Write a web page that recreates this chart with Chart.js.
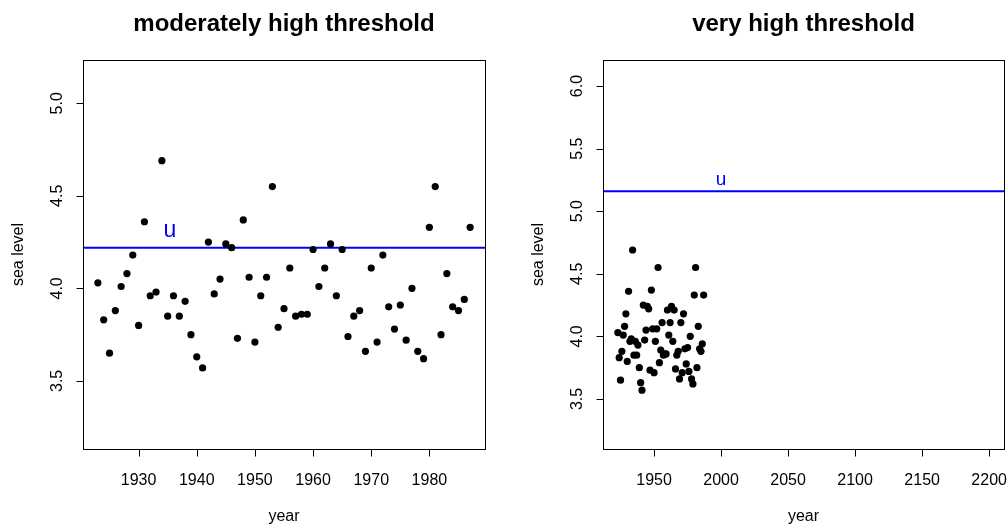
<!DOCTYPE html>
<html>
<head>
<meta charset="utf-8">
<script src="https://cdn.jsdelivr.net/npm/chart.js@4.4.1/dist/chart.umd.min.js"></script>
<style>
  body { margin: 0; background: #fff; }
  .wrap { position: relative; width: 1008px; height: 524px; }
  canvas { position: absolute; top: 0; }
</style>
</head>
<body>
<div class="wrap">
  <canvas id="left" width="520" height="524" style="left:0"></canvas>
  <canvas id="right" width="488" height="524" style="left:520px"></canvas>
</div>
<script>
// Port Pirie annual maximum sea level
const years = [1923, 1924, 1925, 1926, 1927, 1928, 1929, 1930, 1931, 1932,
  1933, 1934, 1935, 1936, 1937, 1938, 1939, 1940, 1941, 1942,
  1943, 1944, 1945, 1946, 1947, 1948, 1949, 1950, 1951, 1952,
  1953, 1954, 1955, 1956, 1957, 1958, 1959, 1960, 1961, 1962,
  1963, 1964, 1965, 1966, 1967, 1968, 1969, 1970, 1971, 1972,
  1973, 1974, 1975, 1976, 1977, 1978, 1979, 1980, 1981, 1982,
  1983, 1984, 1985, 1986, 1987];
const seaLevel = [4.03, 3.83, 3.65, 3.88, 4.01, 4.08, 4.18, 3.80, 4.36, 3.96,
  3.98, 4.69, 3.85, 3.96, 3.85, 3.93, 3.75, 3.63, 3.57, 4.25,
  3.97, 4.05, 4.24, 4.22, 3.73, 4.37, 4.06, 3.71, 3.96, 4.06,
  4.55, 3.79, 3.89, 4.11, 3.85, 3.86, 3.86, 4.21, 4.01, 4.11,
  4.24, 3.96, 4.21, 3.74, 3.85, 3.88, 3.66, 4.11, 3.71, 4.18,
  3.90, 3.78, 3.91, 3.72, 4.00, 3.66, 3.62, 4.33, 4.55, 3.75,
  4.08, 3.90, 3.88, 3.94, 4.33];

// thresholds
const uModerate = 4.22;
const uVeryHigh = 5.16;

// tick labels
const xTicksLeft = [1930, 1940, 1950, 1960, 1970, 1980];
const yTicksLeft = [3.5, 4.0, 4.5, 5.0];
const xTicksRight = [1950, 2000, 2050, 2100, 2150, 2200];
const yTicksRight = [3.5, 4.0, 4.5, 5.0, 5.5, 6.0];

const FONT = '"Liberation Sans", Arial, Helvetica, sans-serif';

// draws the R-style box, ticks, labels and titles
const rAxes = {
  id: 'rAxes',
  afterDraw(chart, args, o) {
    const ctx = chart.ctx, a = chart.chartArea;
    const xs = chart.scales.x, ys = chart.scales.y;
    const px = v => Math.round(v) + 0.5;
    ctx.save();
    ctx.strokeStyle = '#000';
    ctx.lineWidth = 1;
    ctx.strokeRect(px(a.left), px(a.top), Math.round(a.right) - Math.round(a.left), Math.round(a.bottom) - Math.round(a.top));

    ctx.beginPath();
    o.xTicks.forEach(t => {
      const x = px(xs.getPixelForValue(t));
      ctx.moveTo(x, px(a.bottom)); ctx.lineTo(x, px(a.bottom) + 7);
    });
    o.yTicks.forEach(t => {
      const y = px(ys.getPixelForValue(t));
      ctx.moveTo(px(a.left), y); ctx.lineTo(px(a.left) - 7, y);
    });
    ctx.stroke();

    ctx.fillStyle = '#000';
    ctx.font = '16px ' + FONT;
    ctx.textAlign = 'center';
    ctx.textBaseline = 'alphabetic';
    o.xTicks.forEach(t => ctx.fillText(String(t), xs.getPixelForValue(t), 485));
    o.yTicks.forEach(t => {
      ctx.save();
      ctx.translate(a.left - 21.5, ys.getPixelForValue(t));
      ctx.rotate(-Math.PI / 2);
      ctx.fillText(t.toFixed(1), 0, 0);
      ctx.restore();
    });

    const cx = (a.left + a.right) / 2, cy = (a.top + a.bottom) / 2;
    ctx.fillText('year', cx, 520.5);
    ctx.save();
    ctx.translate(a.left - 60, cy);
    ctx.rotate(-Math.PI / 2);
    ctx.fillText('sea level', 0, 0);
    ctx.restore();

    ctx.font = 'bold 24px ' + FONT;
    ctx.fillText(o.title, cx, 31);

    ctx.fillStyle = '#0000ff';
    ctx.font = o.uSize + 'px ' + FONT;
    ctx.fillText('u', xs.getPixelForValue(o.uAt[0]), ys.getPixelForValue(o.uAt[1]));
    ctx.restore();
  }
};

function makePanel(id, cfg) {
  const pts = years.map((y, i) => ({ x: y, y: seaLevel[i] }));
  return new Chart(document.getElementById(id), {
    type: 'scatter',
    data: {
      datasets: [
        {
          data: pts,
          backgroundColor: '#000',
          borderWidth: 0,
          pointRadius: 3.6
        },
        {
          type: 'line',
          data: [{ x: cfg.xMin, y: cfg.u }, { x: cfg.xMax, y: cfg.u }],
          borderColor: '#0000ff',
          borderWidth: 2,
          pointRadius: 0,
          fill: false
        }
      ]
    },
    options: {
      responsive: false,
      animation: false,
      devicePixelRatio: 1,
      events: [],
      layout: { padding: cfg.padding },
      plugins: {
        legend: { display: false },
        tooltip: { enabled: false },
        rAxes: {
          title: cfg.title,
          xTicks: cfg.xTicks,
          yTicks: cfg.yTicks,
          uAt: cfg.uAt,
          uSize: cfg.uSize
        }
      },
      scales: {
        x: { type: 'linear', min: cfg.xMin, max: cfg.xMax, display: false },
        y: { type: 'linear', min: cfg.yMin, max: cfg.yMax, display: false }
      }
    },
    plugins: [rAxes]
  });
}

makePanel('left', {
  title: 'moderately high threshold',
  xMin: 1920.44, xMax: 1989.56,
  yMin: 3.132, yMax: 5.234,
  xTicks: xTicksLeft, yTicks: yTicksLeft,
  u: uModerate, uAt: [1935.4, 4.277], uSize: 23,
  padding: { left: 83, right: 35, top: 60, bottom: 75 }
});

makePanel('right', {
  title: 'very high threshold',
  xMin: 1911.92, xMax: 2211.08,
  yMin: 3.10, yMax: 6.208,
  xTicks: xTicksRight, yTicks: yTicksRight,
  u: uVeryHigh, uAt: [2000, 5.21], uSize: 19,
  padding: { left: 83, right: 4, top: 60, bottom: 75 }
});
</script>
</body>
</html>
